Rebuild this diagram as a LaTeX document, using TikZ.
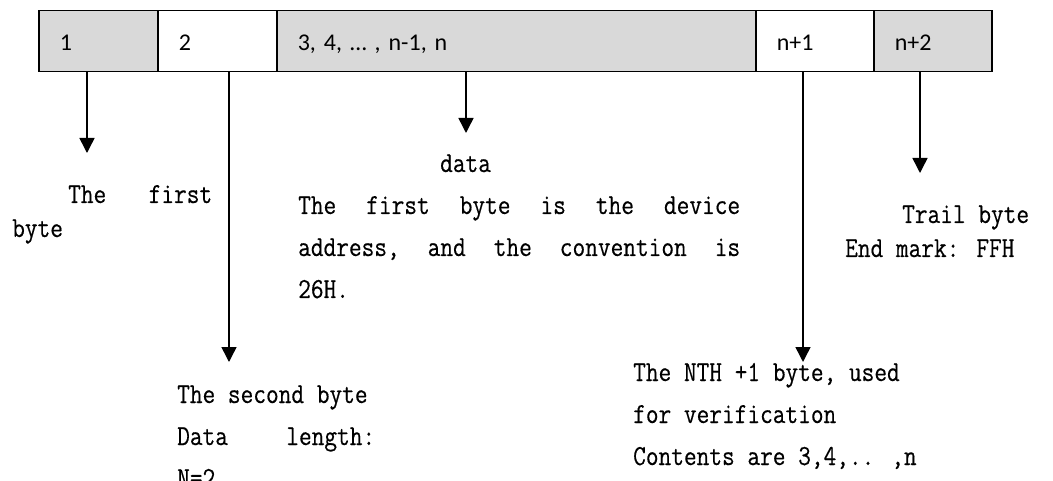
\documentclass[tikz,border=0pt]{standalone}
\usepackage{fontspec}
\setmainfont{Carlito}
\newfontfamily\refmono[FakeBold=0.4,FakeStretch=0.85]{Latin Modern Mono}
\usetikzlibrary{arrows.meta}
\definecolor{cellgray}{RGB}{217,217,217}
\begin{document}
\begin{tikzpicture}[x=1pt,y=-1pt,
  cell/.style={draw=black,line width=1.5pt,anchor=north west,minimum height=61pt,
    inner xsep=21pt,inner ysep=0pt,text height=18pt,text depth=0pt,
    font=\fontsize{24}{28}\selectfont,align=left},
  arr/.style={line width=1.5pt,-{Triangle[length=15pt,width=15pt]}},
  tx/.style={inner sep=0pt,anchor=base west,align=left},
  txa/.style={tx,font=\refmono\fontsize{29}{34}\selectfont},
  txb/.style={tx,font=\refmono\fontsize{29}{42}\selectfont}]
\useasboundingbox (0,0) rectangle (1053,481);
\clip (0,0) rectangle (1053,481);
\fill[white] (0,0) rectangle (1053,481);
% frame cells
\node[cell,fill=cellgray,text width=77pt] (c1) at (38,10) {1};
\node[cell,fill=white,text width=77pt] (c2) at (157,10) {2};
\node[cell,fill=cellgray,text width=437pt] (c3) at (276,10) {3, 4, … , n-1, n};
\node[cell,fill=white,text width=76pt] (c4) at (755,10) {n+1};
\node[cell,fill=cellgray,text width=76pt] (c5) at (873,10) {n+2};
% arrow ends
\coordinate (e1) at (87,153);
\coordinate (e2) at (229,362);
\coordinate (e3) at (466,133);
\coordinate (e4) at (803,362);
\coordinate (e5) at (920,173);
\draw[arr] ([xshift=49pt]c1.south west) -- (e1);
\draw[arr] ([xshift=72pt]c2.south west) -- (e2);
\draw[arr] ([xshift=190pt]c3.south west) -- (e3);
\draw[arr] ([xshift=48pt]c4.south west) -- (e4);
\draw[arr] ([xshift=47pt]c5.south west) -- (e5);
% texts (anchored at the baseline of their last line)
\node[txa] (t1) at (12,237) {\hspace*{56pt}\makebox[144pt][l]{The\hfill first}\\byte};
\node[txb] (t3) at (298,298) {\hspace*{142pt}data\\
  \makebox[442pt][l]{The\hfill first\hfill byte\hfill is\hfill the\hfill device}\\
  \makebox[442pt][l]{address,\hfill and\hfill the\hfill convention\hfill is}\\
  26H.};
\node[txa] (t5) at (845,257) {\hspace*{57pt}Trail byte\\End mark: FFH};
\node[txb] (t2) at (177,487) {The second byte\\\makebox[198pt][l]{Data\hfill length:}\\N=2};
\node[txb] (t4) at (633,465) {The NTH +1 byte, used\\for verification\\Contents are 3,4,.. ,n};
\end{tikzpicture}
\end{document}
